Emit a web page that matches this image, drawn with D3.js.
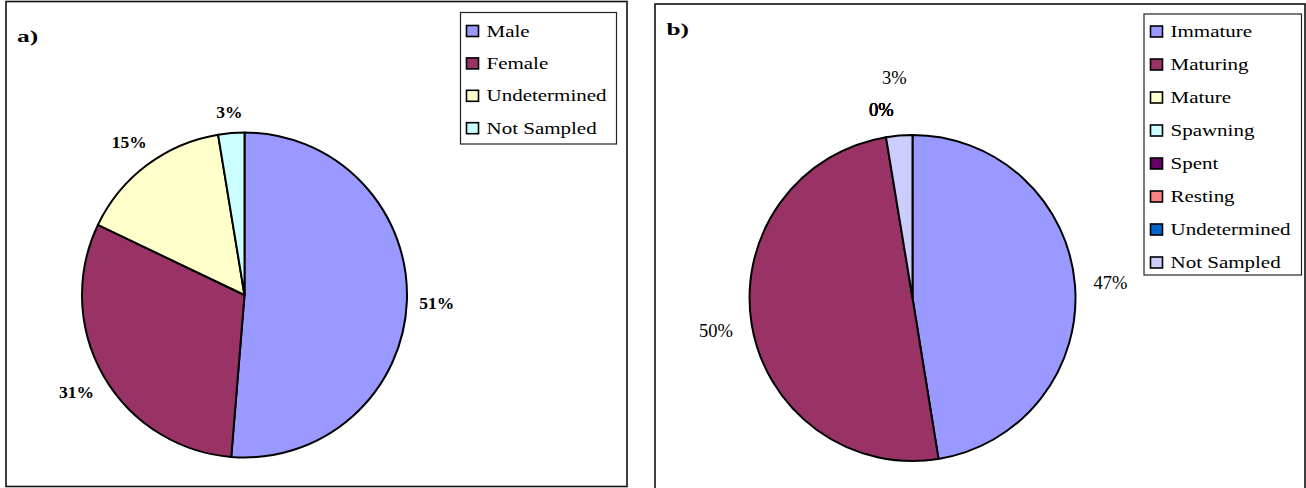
<!DOCTYPE html>
<html>
<head>
<meta charset="utf-8">
<script src="https://cdn.jsdelivr.net/npm/d3@7"></script>
<style>
  body { margin: 0; background: #fff; }
  svg { display: block; }
</style>
</head>
<body>
<div id="chart"></div>
<script>

///////////////////////////////////////////////////////////////////////////
///////////////////////////////// Data ////////////////////////////////////
///////////////////////////////////////////////////////////////////////////
var sexCategories = ["Male", "Female", "Undetermined", "Not Sampled"]
var sexValues = [51.3, 30.8, 15.3, 2.6]
var sexColors = ["#9999FF", "#993366", "#FFFFCC", "#CCFFFF"]

var stageCategories = ["Immature", "Maturing", "Mature", "Spawning", "Spent", "Resting", "Undetermined", "Not Sampled"]
var stageValues = [47.45, 49.95, 0, 0, 0, 0, 0, 2.6]
var stageColors = ["#9999FF", "#993366", "#FFFFCC", "#CCFFFF", "#660066", "#FF8080", "#0066CC", "#CCCCFF"]

///////////////////////////////////////////////////////////////////////////
///////////////////////////////// Globals /////////////////////////////////
///////////////////////////////////////////////////////////////////////////
var W = 1306, H = 488
var FONT = "'Liberation Serif', Tinos, 'Times New Roman', Times, serif"

var svg = d3.select("#chart").append("svg")
  .attr("width", W)
  .attr("height", H)
  .attr("font-family", FONT)
  .style("font-family", FONT)

var panels = [
  { tag: "a)", cats: sexCategories, vals: sexValues, colors: sexColors,
    frame: [6, 1.5, 621, 485], tagPos: [17, 41.5],
    cx: 244.5, cy: 295, r: 162.5,
    labelBold: true, labelSize: 17.5, gap: 12,
    legend: { x: 460.5, y: 12.5, w: 156, h: 131.5, first: 36.5, step: 32.4, sw: 466.5, tx: 486.5 } },
  { tag: "b)", cats: stageCategories, vals: stageValues, colors: stageColors,
    frame: [655, 4, 650, 490], tagPos: [666.5, 35],
    cx: 912.5, cy: 298, r: 163,
    labelBold: false, labelSize: 18.5, gap: 18,
    legend: { x: 1144, y: 14, w: 157.5, h: 261, first: 37, step: 33, sw: 1150.5, tx: 1170.5 } }
]

var pie = d3.pie().sort(null).value(d => d)

///////////////////////////////////////////////////////////////////////////
/////////////////////////////////// Draw //////////////////////////////////
///////////////////////////////////////////////////////////////////////////
panels.forEach(drawPanel)

function drawPanel(p) {

  var g = svg.append("g")

  // outer frame
  g.append("rect")
    .attr("x", p.frame[0]).attr("y", p.frame[1])
    .attr("width", p.frame[2]).attr("height", p.frame[3])
    .attr("fill", "#fff")
    .attr("stroke", "#111")
    .attr("stroke-width", 1.6)

  g.append("text")
    .attr("transform", "translate(" + p.tagPos[0] + "," + p.tagPos[1] + ") scale(1.45,1)")
    .attr("font-size", 17.5)
    .attr("font-weight", "bold")
    .text(p.tag)

  //////////////////////////////// Pie //////////////////////////////////
  var arcs = pie(p.vals)
  var arc = d3.arc().innerRadius(0).outerRadius(p.r)

  var pg = g.append("g")
    .attr("transform", "translate(" + p.cx + "," + p.cy + ")")

  pg.selectAll("path")
    .data(arcs.filter(d => d.value > 0))
    .enter().append("path")
    .attr("d", arc)
    .attr("fill", (d) => p.colors[d.index])
    .attr("stroke", "#000")
    .attr("stroke-width", 2)
    .attr("stroke-linejoin", "round")

  ////////////////////////////// Labels /////////////////////////////////
  var placed = []
  arcs.forEach(function (d) {
    var ang = (d.startAngle + d.endAngle) / 2
    var sx = Math.sin(ang), sy = -Math.cos(ang)
    var t = pg.append("text")
      .attr("font-size", p.labelSize)
      .attr("font-weight", p.labelBold ? "bold" : "normal")
      .attr("text-anchor", "middle")
      .attr("dy", "0.35em")
      .text(Math.round(d.value) + "%")
    var bb = t.node().getBBox()
    var hw = bb.width / 2, hh = 8.5
    var R = p.r + p.gap + Math.abs(sx) * hw + Math.abs(sy) * hh
    var x = sx * R, y = sy * R
    // push outward while it collides with a label at a different angle
    var tries = 0
    while (tries < 200 && placed.some(o => Math.abs(o.ang - ang) > 1e-6 &&
        Math.abs(o.x - x) < o.hw + hw && Math.abs(o.y - y) < o.hh + hh + 14)) {
      R += 1; x = sx * R; y = sy * R; tries++
    }
    placed.push({ ang: ang, x: x, y: y, hw: hw, hh: hh })
    t.attr("x", x).attr("y", y)
  })

  ////////////////////////////// Legend /////////////////////////////////
  var L = p.legend
  g.append("rect")
    .attr("x", L.x).attr("y", L.y)
    .attr("width", L.w).attr("height", L.h)
    .attr("fill", "#fff")
    .attr("stroke", "#222")
    .attr("stroke-width", 1.2)

  var rows = g.selectAll(".legend-row")
    .data(p.cats)
    .enter().append("g")
    .attr("class", "legend-row")
    .attr("transform", (d, i) => "translate(0," + (L.first + i * L.step) + ")")

  rows.append("rect")
    .attr("x", L.sw).attr("y", -11)
    .attr("width", 12).attr("height", 11)
    .attr("fill", (d, i) => p.colors[i])
    .attr("stroke", "#000")
    .attr("stroke-width", 1.6)

  rows.append("text")
    .attr("transform", "translate(" + L.tx + ",0) scale(1.2,1)")
    .attr("font-size", 17.5)
    .text(d => d)
}

</script>
</body>
</html>
